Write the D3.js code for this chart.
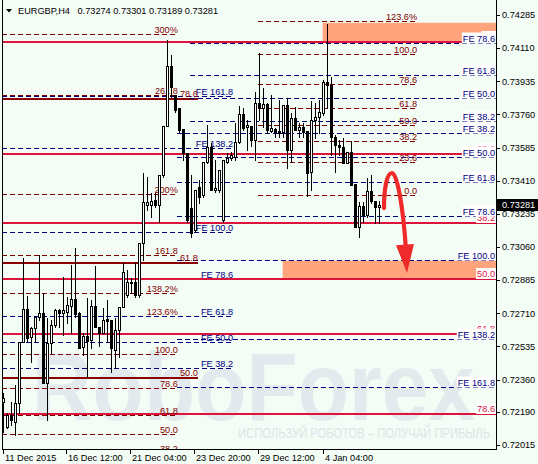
<!DOCTYPE html>
<html><head><meta charset="utf-8">
<script src="https://cdn.jsdelivr.net/npm/d3@7"></script>
<style>
html,body{margin:0;padding:0;background:#F4FCF6;}
svg{display:block;font-family:"Liberation Sans",Arial,sans-serif;}
</style></head><body>
<svg id="c" width="538" height="464"></svg>
<script>
// ---------------- data ----------------
const symbol = "EURGBP,H4";
const lastQuote = [0.73274, 0.73301, 0.73189, 0.73281];

const opens = [0.72241,0.72109,0.72173,0.72136,0.72236,0.72558,0.72732,0.72585,0.72632,0.72690,
0.72711,0.72342,0.72553,0.72648,0.72727,0.72711,0.72717,0.72748,0.72785,0.72711,
0.72532,0.72590,0.72569,0.72748,0.72637,0.72606,0.72680,0.72674,0.72516,0.72622,
0.72743,0.72806,0.72870,0.72875,0.72806,0.73081,0.73282,0.73282,0.73308,0.73282,
0.73440,0.73699,0.74016,0.73862,0.73794,0.73683,0.73556,0.73266,0.73150,0.73377,
0.73334,0.73509,0.73588,0.73361,0.73361,0.73202,0.73509,0.73530,0.73535,0.73614,
0.73762,0.73693,0.73699,0.73625,0.73820,0.73794,0.73815,0.73672,0.73683,0.73672,
0.73667,0.73810,0.73572,0.73741,0.73678,0.73693,0.73672,0.73456,0.73730,0.73746,
0.73767,0.73931,0.73915,0.73641,0.73598,0.73588,0.73503,0.73561,0.73392,0.73165,
0.73276,0.73229,0.73356,0.73303,0.73274];
const highs = [0.72289,0.72183,0.72241,0.72331,0.72558,0.73002,0.72801,0.72637,0.72690,0.73018,
0.72817,0.72685,0.72674,0.72732,0.72732,0.72901,0.72796,0.72965,0.73055,0.72717,
0.72606,0.72791,0.72780,0.72960,0.72637,0.72738,0.72780,0.72674,0.72685,0.72743,
0.72975,0.72938,0.72896,0.72975,0.73081,0.73451,0.73429,0.73345,0.73345,0.73440,
0.73699,0.74153,0.74074,0.73862,0.73794,0.73683,0.73556,0.73440,0.73361,0.73414,
0.73509,0.73704,0.73609,0.73519,0.73466,0.73519,0.73556,0.73561,0.73715,0.73804,
0.73794,0.73730,0.73699,0.73878,0.74084,0.73899,0.73820,0.73862,0.73688,0.73836,
0.73810,0.73847,0.73767,0.73799,0.73715,0.73715,0.73672,0.73831,0.73820,0.73836,
0.73942,0.74237,0.73957,0.73651,0.73625,0.73635,0.73561,0.73620,0.73392,0.73297,
0.73297,0.73424,0.73440,0.73303,0.73301];
const lows = [0.72083,0.72104,0.72120,0.72067,0.72183,0.72558,0.72558,0.72453,0.72558,0.72674,
0.72342,0.72146,0.72500,0.72637,0.72637,0.72595,0.72659,0.72606,0.72690,0.72527,
0.72490,0.72373,0.72527,0.72637,0.72537,0.72606,0.72558,0.72400,0.72421,0.72479,
0.72743,0.72796,0.72817,0.72796,0.72796,0.72991,0.73255,0.73218,0.73271,0.73192,
0.73429,0.73699,0.73852,0.73773,0.73667,0.73519,0.73192,0.73113,0.73139,0.73292,
0.73324,0.73503,0.73361,0.73350,0.73350,0.73192,0.73503,0.73519,0.73519,0.73609,
0.73678,0.73572,0.73593,0.73519,0.73730,0.73693,0.73662,0.73667,0.73641,0.73641,
0.73641,0.73477,0.73509,0.73678,0.73641,0.73641,0.73329,0.73361,0.73635,0.73662,
0.73757,0.73794,0.73546,0.73456,0.73546,0.73503,0.73503,0.73387,0.73165,0.73113,
0.73192,0.73218,0.73292,0.73187,0.73189];
const closes = [0.72263,0.72173,0.72146,0.72236,0.72558,0.72732,0.72579,0.72632,0.72690,0.72711,
0.72342,0.72553,0.72648,0.72727,0.72711,0.72727,0.72754,0.72785,0.72706,0.72527,
0.72590,0.72564,0.72748,0.72637,0.72606,0.72674,0.72669,0.72527,0.72622,0.72743,
0.72928,0.72875,0.72875,0.72806,0.73081,0.73297,0.73297,0.73303,0.73282,0.73440,
0.73699,0.74016,0.73905,0.73783,0.73678,0.73556,0.73202,0.73134,0.73361,0.73324,
0.73509,0.73588,0.73361,0.73371,0.73466,0.73519,0.73530,0.73546,0.73614,0.73762,
0.73688,0.73704,0.73625,0.73820,0.73794,0.73815,0.73678,0.73688,0.73667,0.73662,
0.73810,0.73572,0.73741,0.73678,0.73693,0.73667,0.73451,0.73730,0.73746,0.73773,
0.73931,0.73915,0.73641,0.73598,0.73588,0.73503,0.73561,0.73387,0.73165,0.73276,
0.73229,0.73356,0.73303,0.73271,0.73281];

const timeTickBars = [0,16,32,48,64,80];
const timeTickLabels = ["11 Dec 2015","16 Dec 12:00","21 Dec 04:00","23 Dec 20:00","29 Dec 12:00","4 Jan 04:00"];
const priceTicks = [0.74285,0.74110,0.73935,0.73760,0.73585,0.73410,0.73235,0.73060,0.72885,0.72710,0.72535,0.72360,0.72190,0.72015];

// Fibonacci tools: anchors = [price at 0%, price at 100%], span = [start bar, end bar] (null = chart edge)
const crimsonAnchors = [0.74144, 0.71643];
const crimsonLevels = [0, 23.6, 38.2, 50, 61.8, 78.6];
const crimsonLabels = ["0.0","23.6","38.2","50.0","61.8","78.6"];
const crimsonSpan = [null, null];

const maroonSolidAnchors = [0.69795, 0.74941];
const maroonSolidLevels = [50, 61.8, 78.6];
const maroonSolidLabels = ["50.0","61.8","78.6"];
const maroonSolidSpan = [null, 48.6];

const leftExpAnchors = [0.71650, 0.72495];
const leftExpLevels = [38.2, 50, 61.8, 78.6, 100, 123.6, 138.2, 161.8, 200, 261.8, 300];
const leftExpLabels = ["38.2","50.0","61.8","78.6","100.0","123.6%","138.2%","161.8","200%","261.8","300%"];
const leftExpSpan = [null, 43.6];

const rightRetAnchors = [0.73334, 0.74079];
const rightRetLevels = [0, 23.6, 38.2, 50, 61.8, 78.6, 100, 123.6];
const rightRetLabels = ["0.0","23.6","38.2","50.0","61.8","78.6","100.0","123.6%"];
const rightRetSpan = [63.6, 103.4];

const feLeftAnchors = [0.71977, 0.73139];
const feLeftLevels = [38.2, 50, 61.8, 78.6, 100, 138.2, 161.8];
const feLeftLabels = ["FE 38.2","FE 50.0","FE 61.8","FE 78.6","FE 100.0","FE 138.2","FE 161.8"];
const feLeftSpan = [null, 57.4];

const feDownAnchors = [0.74076, 0.72991];
const feDownLevels = [38.2, 50, 61.8, 78.6, 100, 138.2, 161.8];
const feDownLabels = ["FE 38.2","FE 50.0","FE 61.8","FE 78.6","FE 100.0","FE 138.2","FE 161.8"];
const feDownSpan = [43.4, null];

const feUpAnchors = [0.73336, 0.74355];
const feUpLevels = [38.2, 50, 61.8, 78.6];
const feUpLabels = ["FE 38.2","FE 50.0","FE 61.8","FE 78.6"];
const feUpSpan = [46.6, null];

// target zones
const zoneStartBars = [79.8, 69.8];
const zoneTops = [0.74244, 0.72988];
const zoneBottoms = [0.74144, 0.72895];

// forecast arrow [bar, price]
const arrowCurve = [[95.125,0.73266],[95.125,0.73371],[95.875,0.73451],[97.125,0.73451],[98.375,0.73451],[99.875,0.73282],[100.625,0.73044]];
const arrowHead = [[98.125,0.73070],[102.625,0.73076],[100.875,0.72923]];

// ---------------- drawing ----------------
const W = 538, H = 464;
const BG = "#F4FCF6";
const CRIMSON = "#DC143C", MAROON = "#800000", NAVY = "#000080";
const plot = {left:2, right:496, top:0, bottom:449};
const x = d3.scaleLinear().domain([0, 94]).range([3.5, 379.5]);
const y = d3.scaleLinear().domain([0.72015, 0.74285]).range([445, 15]);
const FS = 9.2;

const svg = d3.select("#c");
svg.append("rect").attr("width", W).attr("height", H).attr("fill", BG);
svg.append("defs").append("clipPath").attr("id","pc").append("rect")
  .attr("x", plot.left).attr("y", plot.top).attr("width", plot.right - plot.left).attr("height", plot.bottom - plot.top);
const g = svg.append("g").attr("clip-path","url(#pc)");

// watermark
g.append("text").attr("x", 32).attr("y", 420).attr("font-size", 97).attr("font-weight","bold")
  .attr("fill", "#E2EAED").attr("textLength", 443).attr("lengthAdjust","spacingAndGlyphs").text("RoboForex");
g.append("text").attr("x", 238).attr("y", 438).attr("font-size", 14).attr("fill", "#DDE5E8")
  .attr("textLength", 252).attr("lengthAdjust","spacingAndGlyphs").text("ИСПОЛЬЗУЙ РОБОТОВ – ПОЛУЧАЙ ПРИБЫЛЬ");

// zones
zoneStartBars.forEach((b, i) => {
  const x0 = x(b), y0 = y(zoneTops[i]), y1 = y(zoneBottoms[i]);
  g.append("rect").attr("x", x0).attr("y", y0).attr("width", plot.right - x0).attr("height", y1 - y0).attr("fill", "#FFA47C");
});

const lineLayer = g.append("g");
const labelLayer = g.append("g");
const boxLayer = svg.append("g");

function drawFib(anchors, levels, labels, span, opt) {
  const x1 = span[0] == null ? plot.left : x(span[0]);
  const x2 = span[1] == null ? plot.right : x(span[1]);
  levels.forEach((lv, i) => {
    const p = anchors[0] + (anchors[1] - anchors[0]) * lv / 100;
    const yy = opt.width === 2 ? Math.round(y(p)) : Math.round(y(p)) + 0.5;
    lineLayer.append("line").attr("x1", x1).attr("x2", x2).attr("y1", yy).attr("y2", yy)
      .attr("stroke", opt.color).attr("stroke-width", opt.width)
      .attr("stroke-dasharray", opt.dash || null).attr("shape-rendering","crispEdges");
    const lx = span[1] == null ? plot.right - 1 : x2;
    const layer = opt.box ? boxLayer.append("g") : labelLayer;
    const t = layer.append("text").attr("x", lx).attr("y", yy - 2).attr("text-anchor","end")
      .attr("font-size", FS).attr("fill", opt.color).text(labels[i]);
    if (opt.box) {
      const bb = t.node().getBBox();
      layer.insert("rect","text").attr("x", bb.x - 1).attr("y", bb.y - 1).attr("width", bb.width + 2)
        .attr("height", bb.height + 1).attr("fill", "#FFFFFF");
    }
  });
}

drawFib(leftExpAnchors, leftExpLevels, leftExpLabels, leftExpSpan, {color: MAROON, width: 1, dash: "5,3"});
drawFib(rightRetAnchors, rightRetLevels, rightRetLabels, rightRetSpan, {color: MAROON, width: 1, dash: "5,3"});
drawFib(feLeftAnchors, feLeftLevels, feLeftLabels, feLeftSpan, {color: NAVY, width: 1, dash: "5,3"});
drawFib(maroonSolidAnchors, maroonSolidLevels, maroonSolidLabels, maroonSolidSpan, {color: "#8B0000", width: 2});
drawFib(crimsonAnchors, crimsonLevels, crimsonLabels, crimsonSpan, {color: CRIMSON, width: 2, box: true});
drawFib(feDownAnchors, feDownLevels, feDownLabels, feDownSpan, {color: NAVY, width: 1, dash: "5,3", box: true});
drawFib(feUpAnchors, feUpLevels, feUpLabels, feUpSpan, {color: NAVY, width: 1, dash: "5,3", box: true});

// candles
const candles = g.append("g");
opens.forEach((o, i) => {
  const c = closes[i];
  const cx = x(i);
  const yh = Math.round(y(highs[i])), yl = Math.round(y(lows[i]));
  candles.append("line").attr("x1", cx).attr("x2", cx).attr("y1", yh).attr("y2", yl + 1)
    .attr("stroke", "#000").attr("stroke-width", 1).attr("shape-rendering","crispEdges");
  const yt = Math.round(y(Math.max(o, c))), yb = Math.round(y(Math.min(o, c)));
  candles.append("rect").attr("x", cx - 1).attr("y", yt + 0.5).attr("width", 2).attr("height", Math.max(0, yb - yt))
    .attr("fill", c >= o ? "#FFFFFF" : "#000000").attr("stroke", "#000").attr("stroke-width", 1)
    .attr("shape-rendering","crispEdges");
});

// forecast arrow
const P = arrowCurve.map(d => [x(d[0]), y(d[1])]);
g.append("path")
  .attr("d", `M${P[0]}C${P[1]} ${P[2]} ${P[3]}C${P[4]} ${P[5]} ${P[6]}`)
  .attr("fill","none").attr("stroke","#EE2A2A").attr("stroke-width", 4.2).attr("stroke-linecap","round");
g.append("path").attr("d", "M" + arrowHead.map(d => [x(d[0]), y(d[1])].join(",")).join("L") + "Z")
  .attr("fill","#EE2A2A");

// frame & axes
const ax = svg.append("g").attr("shape-rendering","crispEdges");
ax.append("line").attr("x1", 2.5).attr("x2", 2.5).attr("y1", 0).attr("y2", 449.5).attr("stroke","#000");
ax.append("line").attr("x1", 496.5).attr("x2", 496.5).attr("y1", 0).attr("y2", 449.5).attr("stroke","#000");
ax.append("line").attr("x1", 2).attr("x2", 497).attr("y1", 449.5).attr("y2", 449.5).attr("stroke","#000");

priceTicks.forEach(t => {
  const yy = Math.round(y(t)) + 0.5;
  ax.append("line").attr("x1", 497).attr("x2", 500).attr("y1", yy).attr("y2", yy).attr("stroke","#000");
  svg.append("text").attr("x", 502).attr("y", y(t) + 3.3).attr("font-size", FS).attr("fill","#000").text(t.toFixed(5));
});

// current price tag
const lastClose = lastQuote[3];
svg.append("rect").attr("x", 497).attr("y", Math.round(y(lastClose)) - 6).attr("width", 41).attr("height", 12).attr("fill","#000");
svg.append("text").attr("x", 502).attr("y", y(lastClose) + 3.3).attr("font-size", FS).attr("fill","#FFF").text(lastClose.toFixed(5));

timeTickBars.forEach((b, i) => {
  const tx = Math.round(x(b)) - 0.5;
  ax.append("line").attr("x1", tx).attr("x2", tx).attr("y1", 449).attr("y2", 454).attr("stroke","#000");
  svg.append("text").attr("x", tx + 1.5).attr("y", 460.5).attr("font-size", FS).attr("fill","#000").text(timeTickLabels[i]);
});

// title
svg.append("path").attr("d","M6,9L12,9L9,12.5Z").attr("fill","#000");
svg.append("text").attr("x", 18).attr("y", 14).attr("font-size", FS).attr("fill","#000").text(symbol);
svg.append("text").attr("x", 77.5).attr("y", 14).attr("font-size", FS).attr("fill","#000")
  .text(lastQuote.map(v => v.toFixed(5)).join(" "));
</script>
</body></html>
